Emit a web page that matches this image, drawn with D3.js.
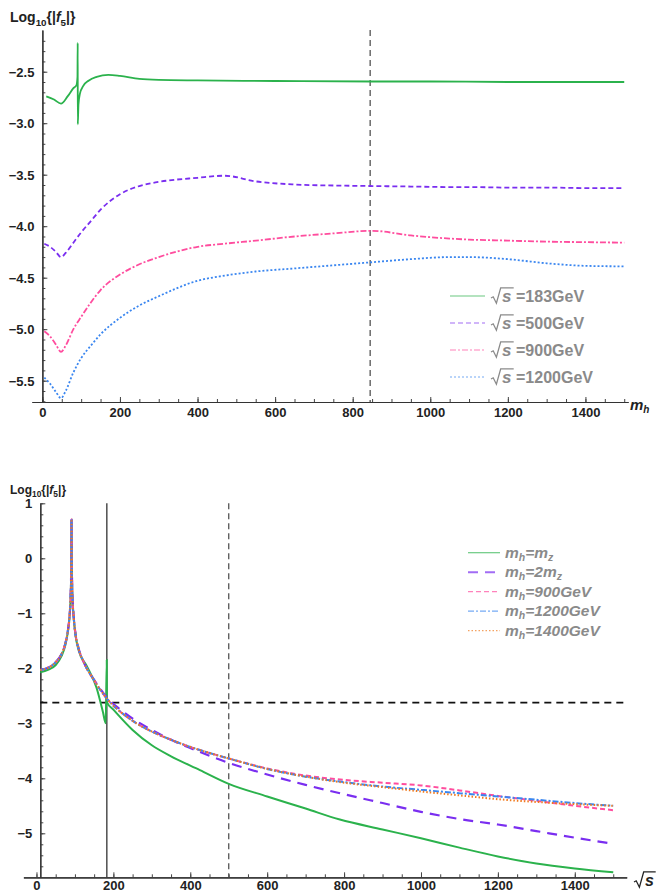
<!DOCTYPE html>
<html>
<head>
<meta charset="utf-8">
<script src="https://cdn.jsdelivr.net/npm/d3@7"></script>
<style>
body { margin: 0; background: #fff; }
svg { display: block; }
text { font-family: "Liberation Sans", Arial, sans-serif; }
</style>
</head>
<body>
<div class="chart"></div>
<script>

// ---- top panel data: Log10|f5| vs m_h ----
var mhGrid = [5, 20, 35, 48, 60, 80, 100, 125, 150, 200, 250, 300, 400, 470, 550, 650, 750, 850, 950, 1050, 1100, 1200, 1300, 1400, 1500];
var f5_500  = [-4.17, -4.20, -4.25, -4.30, -4.26, -4.16, -4.06, -3.95, -3.84, -3.69, -3.61, -3.57, -3.53, -3.51, -3.565, -3.595, -3.605, -3.61, -3.615, -3.62, -3.62, -3.625, -3.625, -3.63, -3.63];
var f5_900  = [-5.02, -5.07, -5.15, -5.22, -5.16, -5.00, -4.88, -4.74, -4.62, -4.47, -4.37, -4.30, -4.20, -4.17, -4.14, -4.10, -4.07, -4.045, -4.09, -4.12, -4.13, -4.14, -4.15, -4.155, -4.16];
var f5_1200 = [-5.47, -5.53, -5.61, -5.67, -5.60, -5.42, -5.28, -5.16, -5.05, -4.89, -4.77, -4.68, -4.53, -4.48, -4.44, -4.41, -4.38, -4.35, -4.32, -4.30, -4.30, -4.32, -4.36, -4.385, -4.39];
var mh183   = [10, 30, 48, 65, 80, 88, 90.5, 91.1, 91.3, 93, 97, 105, 120, 140, 170, 200, 250, 300, 400, 600, 850, 1000, 1200, 1500];
var f5_183  = [-2.74, -2.77, -2.81, -2.74, -2.66, -2.63, -2.55, -2.22, -3.01, -2.82, -2.71, -2.64, -2.585, -2.55, -2.53, -2.54, -2.57, -2.58, -2.585, -2.59, -2.595, -2.595, -2.60, -2.60];
var mhMark = 845;
var topLegend = ["183GeV", "500GeV", "900GeV", "1200GeV"];

// ---- bottom panel data: Log10|f5| vs sqrt(s) ----
var sGrid = [10, 30, 50, 65, 75, 82, 86, 88.5, 90, 90.8, 91.2, 91.6, 92.5, 94, 97, 102, 110, 125, 150, 183, 220, 260, 300, 350, 400, 450, 500, 600, 700, 800, 900, 1000, 1100, 1200, 1300, 1400, 1500];
var g_2mz   = [-2.03, -1.99, -1.89, -1.74, -1.55, -1.30, -1.05, -0.75, -0.35, 0.2, 0.71, 0.2, -0.4, -0.75, -1.08, -1.40, -1.65, -1.92, -2.21, -2.53, -2.76, -2.96, -3.12, -3.30, -3.45, -3.59, -3.72, -3.93, -4.12, -4.29, -4.45, -4.61, -4.74, -4.84, -4.96, -5.08, -5.19];
var g_900   = [-2.03, -1.99, -1.89, -1.74, -1.55, -1.30, -1.05, -0.75, -0.35, 0.2, 0.71, 0.2, -0.4, -0.75, -1.08, -1.40, -1.65, -1.92, -2.22, -2.55, -2.80, -3.00, -3.15, -3.30, -3.43, -3.54, -3.64, -3.82, -3.95, -4.03, -4.08, -4.13, -4.22, -4.32, -4.41, -4.50, -4.58];
var g_1200  = [-2.03, -1.99, -1.89, -1.74, -1.55, -1.30, -1.05, -0.75, -0.35, 0.2, 0.71, 0.2, -0.4, -0.75, -1.08, -1.40, -1.65, -1.92, -2.22, -2.55, -2.80, -3.00, -3.15, -3.30, -3.43, -3.54, -3.64, -3.83, -3.97, -4.07, -4.15, -4.21, -4.27, -4.33, -4.39, -4.45, -4.50];
var g_1400  = [-2.03, -1.99, -1.89, -1.74, -1.55, -1.30, -1.05, -0.75, -0.35, 0.2, 0.71, 0.2, -0.4, -0.75, -1.08, -1.40, -1.65, -1.92, -2.22, -2.55, -2.80, -3.00, -3.15, -3.30, -3.43, -3.54, -3.64, -3.83, -3.97, -4.08, -4.16, -4.24, -4.31, -4.38, -4.43, -4.47, -4.50];
var sMz     = [10, 30, 50, 65, 75, 82, 86, 88.5, 90, 90.8, 91.2, 91.6, 92.5, 94, 97, 102, 110, 130, 156, 173, 180, 182.8, 183.3, 200, 250, 300, 350, 425, 500, 600, 700, 789, 900, 1000, 1100, 1200, 1300, 1400, 1500];
var g_mz    = [-2.07, -2.03, -1.94, -1.78, -1.58, -1.32, -1.07, -0.77, -0.37, 0.18, 0.70, 0.18, -0.42, -0.78, -1.10, -1.42, -1.68, -1.95, -2.35, -2.80, -3.00, -1.85, -2.62, -2.75, -3.12, -3.40, -3.60, -3.85, -4.10, -4.33, -4.55, -4.75, -4.93, -5.09, -5.26, -5.42, -5.55, -5.64, -5.71];
var sqrtsMark = 500, sqrtsLEP = 183, f5Mark = -2.625;
var botLegend = ["m_z", "2m_z", "900GeV", "1200GeV", "1400GeV"];

var green = "#2bb24c", purple = "#7a2ef0", pink = "#ff4d9e", blue = "#3a86f0", orange = "#f07a1e";
var legendGray = "#8a8a8a";

var svg = d3.select(".chart")
	.append("svg")
	.attr("width", 658)
	.attr("height", 894);

function zip(xs, ys) {
	return xs.map(function(v, i) { return [v, ys[i]]; });
}

function radical(g, x, b, w, color) {
	g.append("path")
		.attr("d", "M" + x + "," + (b - 5) + " l2.2,-1.2 l3.2,6.4 l4.3,-15.4 h" + w)
		.attr("fill", "none")
		.attr("stroke", color)
		.attr("stroke-width", 1.3);
}

function drawAxes(g, x, y, xTicks, xMinor, yTicks, yMinor, yAt, xAt, fmt, xPad) {
	var xa = g.append("g").attr("transform", "translate(0," + y(xAt) + ")");
	xa.call(d3.axisBottom(x).tickValues(xMinor).tickSizeInner(-3).tickSizeOuter(0).tickFormat(""));
	xa.append("g").call(d3.axisBottom(x).tickValues(xTicks).tickSizeInner(-5).tickSizeOuter(0).tickPadding(xPad).tickFormat(d3.format("d")));
	var ya = g.append("g").attr("transform", "translate(" + x(yAt) + ",0)");
	ya.call(d3.axisLeft(y).tickValues(yMinor).tickSizeInner(-3).tickSizeOuter(0).tickFormat(""));
	ya.append("g").call(d3.axisLeft(y).tickValues(yTicks).tickSizeInner(-5).tickSizeOuter(0).tickPadding(8).tickFormat(fmt));
	g.selectAll(".domain").attr("stroke", "#333").attr("stroke-width", 1.2);
	g.selectAll(".tick line").attr("stroke", "#444");
	g.selectAll(".tick text")
		.attr("font-family", "'Liberation Sans', Arial, sans-serif")
		.attr("font-size", 13)
		.attr("font-weight", "bold")
		.attr("fill", "#222");
	ya.selectAll(".tick text").attr("dy", "0.36em");
}

function logLabel(g, x, yb, size) {
	var t = g.append("text").attr("x", x).attr("y", yb)
		.attr("font-size", size).attr("font-weight", "bold").attr("fill", "#222");
	t.append("tspan").text("Log");
	t.append("tspan").attr("font-size", size * 0.7).attr("dy", size * 0.25).text("10");
	t.append("tspan").attr("dy", -size * 0.25).text("{|");
	t.append("tspan").attr("font-style", "italic").text("f");
	t.append("tspan").attr("font-size", size * 0.7).attr("dy", size * 0.25).text("5");
	t.append("tspan").attr("dy", -size * 0.25).text("|}");
}

// ================= top panel =================
var x1 = d3.scaleLinear().domain([-27, 1510]).range([31.9, 628.1]);
var y1 = d3.scaleLinear().domain([-5.707, -2.095]).range([402, 30]);
var topG = svg.append("g");

drawAxes(topG, x1, y1,
	d3.range(0, 1401, 200), d3.range(0, 1501, 50),
	d3.range(-5.5, -2.49, 0.5), d3.range(-5.7, -2.15, 0.1),
	0, -5.707, d3.format(".1f"), 6);

topG.append("line")
	.attr("x1", x1(mhMark)).attr("x2", x1(mhMark))
	.attr("y1", y1(-2.095)).attr("y2", y1(-5.707))
	.attr("stroke", "#444").attr("stroke-width", 1.2)
	.attr("stroke-dasharray", "6,4");

var line1 = d3.line().x(function(d) { return x1(d[0]); }).y(function(d) { return y1(d[1]); }).curve(d3.curveMonotoneX);

var topSeries = [
	{ data: zip(mh183, f5_183), color: green, dash: null },
	{ data: zip(mhGrid, f5_500), color: purple, dash: "5,3" },
	{ data: zip(mhGrid, f5_900), color: pink, dash: "6,2,2,2" },
	{ data: zip(mhGrid, f5_1200), color: blue, dash: "2,2" }
];

topG.selectAll(".curve1")
	.data(topSeries)
	.enter().append("path")
	.attr("class", "curve1")
	.attr("d", function(d) { return line1(d.data); })
	.attr("fill", "none")
	.attr("stroke", function(d) { return d.color; })
	.attr("stroke-width", 1.8)
	.attr("stroke-dasharray", function(d) { return d.dash; });

logLabel(topG, 10, 22, 14);

var mh = topG.append("text").attr("x", 630).attr("y", 410)
	.attr("font-size", 15).attr("font-weight", "bold").attr("font-style", "italic").attr("fill", "#222");
mh.append("tspan").text("m");
mh.append("tspan").attr("font-size", 10).attr("dy", 3).text("h");

// top legend
var legTop = topG.selectAll(".leg1")
	.data(topSeries)
	.enter().append("g")
	.attr("class", "leg1")
	.attr("transform", function(d, i) { return "translate(0," + (296 + i * 27) + ")"; });

legTop.append("line")
	.attr("x1", 450).attr("x2", 485)
	.attr("stroke", function(d) { return d.color; })
	.attr("stroke-opacity", 0.7)
	.attr("stroke-width", 1.2)
	.attr("stroke-dasharray", function(d) { return d.dash; });

legTop.each(function(d, i) {
	var g = d3.select(this);
	radical(g, 491, 7, 13, legendGray);
	g.append("text").attr("x", 502).attr("y", 6)
		.attr("font-size", 17).attr("font-weight", "bold").attr("font-style", "italic")
		.attr("fill", legendGray).text("s");
	g.append("text").attr("x", 516).attr("y", 6)
		.attr("font-size", 16).attr("font-weight", "bold")
		.attr("fill", legendGray).text("=" + topLegend[i]);
});

// ================= bottom panel =================
var x2 = d3.scaleLinear().domain([-34, 1535]).range([23.4, 626.7]);
var y2 = d3.scaleLinear().domain([-5.8, 1.0]).range([877.3, 503.3]);
var botG = svg.append("g");

drawAxes(botG, x2, y2,
	d3.range(0, 1401, 200), d3.range(0, 1501, 50),
	d3.range(-5, 1.01, 1), d3.range(-5.6, 1.01, 0.2),
	10, -5.8, d3.format("d"), 3);

botG.append("line")
	.attr("x1", x2(sqrtsLEP)).attr("x2", x2(sqrtsLEP))
	.attr("y1", y2(1.0)).attr("y2", y2(-5.8))
	.attr("stroke", "#333").attr("stroke-width", 1.3);

botG.append("line")
	.attr("x1", x2(sqrtsMark)).attr("x2", x2(sqrtsMark))
	.attr("y1", y2(1.0)).attr("y2", y2(-5.8))
	.attr("stroke", "#555").attr("stroke-width", 1.3)
	.attr("stroke-dasharray", "6,4");

botG.append("line")
	.attr("x1", x2(10)).attr("x2", x2(1535))
	.attr("y1", y2(f5Mark)).attr("y2", y2(f5Mark))
	.attr("stroke", "#111").attr("stroke-width", 1.8)
	.attr("stroke-dasharray", "7,5");

var line2 = d3.line().x(function(d) { return x2(d[0]); }).y(function(d) { return y2(d[1]); }).curve(d3.curveMonotoneX);

var botSeries = [
	{ data: zip(sMz, g_mz), color: green, dash: null, w: 2 },
	{ data: zip(sGrid, g_2mz), color: purple, dash: "10,7", w: 2.2 },
	{ data: zip(sGrid, g_900), color: pink, dash: "5,3", w: 2 },
	{ data: zip(sGrid, g_1200), color: blue, dash: "6,2,2,2", w: 2 },
	{ data: zip(sGrid, g_1400), color: orange, dash: "1.5,2", w: 2 }
];

botG.selectAll(".curve2")
	.data(botSeries)
	.enter().append("path")
	.attr("class", "curve2")
	.attr("d", function(d) { return line2(d.data); })
	.attr("fill", "none")
	.attr("stroke", function(d) { return d.color; })
	.attr("stroke-width", function(d) { return d.w; })
	.attr("stroke-dasharray", function(d) { return d.dash; });

logLabel(botG, 10, 494, 12);

var sq = botG.append("g");
radical(sq, 634, 887, 12, "#222");
sq.append("text").attr("x", 645).attr("y", 886)
	.attr("font-size", 16).attr("font-weight", "bold").attr("font-style", "italic")
	.attr("fill", "#222").text("s");

// bottom legend
var legBot = botG.selectAll(".leg2")
	.data(botSeries)
	.enter().append("g")
	.attr("class", "leg2")
	.attr("transform", function(d, i) { return "translate(0," + (552.7 + i * 19.5) + ")"; });

legBot.append("line")
	.attr("x1", 468).attr("x2", 500)
	.attr("stroke", function(d) { return d.color; })
	.attr("stroke-opacity", 0.7)
	.attr("stroke-width", function(d, i) { return i == 1 ? 2 : 1.2; })
	.attr("stroke-dasharray", function(d) { return d.dash; });

legBot.each(function(d, i) {
	var t = d3.select(this).append("text").attr("x", 505).attr("y", 5)
		.attr("font-size", 15.5).attr("font-weight", "bold").attr("font-style", "italic")
		.attr("fill", legendGray);
	t.append("tspan").text("m");
	t.append("tspan").attr("font-size", 10.5).attr("dy", 3).text("h");
	t.append("tspan").attr("dy", -3).text("=");
	var lab = botLegend[i];
	if (lab.indexOf("m_z") >= 0) {
		t.append("tspan").text(lab.replace("m_z", "") + "m");
		t.append("tspan").attr("font-size", 10.5).attr("dy", 3).text("z");
	} else {
		t.append("tspan").text(lab);
	}
});

</script>
</body>
</html>
